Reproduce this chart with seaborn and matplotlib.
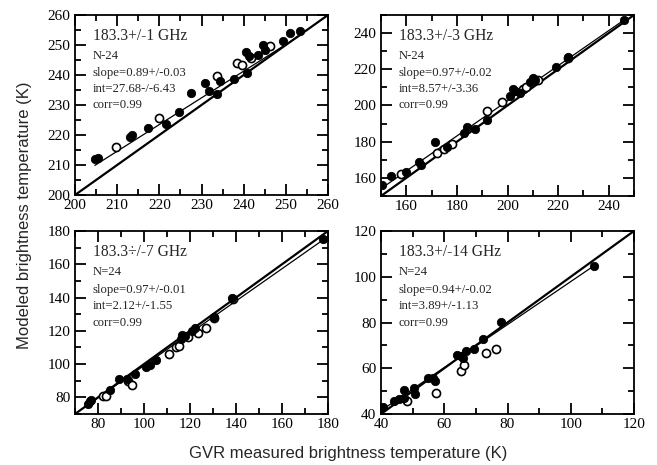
import numpy as np
import pandas as pd
import matplotlib
matplotlib.use("Agg")
import matplotlib.pyplot as plt
import seaborn as sns
from matplotlib.ticker import MultipleLocator

sns.set_style("ticks")
plt.rcParams['font.family'] = ['Liberation Serif', 'DejaVu Serif']

# ---------------- data ----------------
channels = ["183.3+/-1 GHz", "183.3+/-3 GHz", "183.3÷/-7 GHz", "183.3+/-14 GHz"]
n_labels = ["N-24", "N-24", "N=24", "N=24"]
slope_labels = ["slope=0.89+/-0.03", "slope=0.97+/-0.02", "slope=0.97+/-0.01", "slope=0.94+/-0.02"]
int_labels = ["int=27.68-/-6.43", "int=8.57+/-3.36", "int=2.12+/-1.55", "int=3.89+/-1.13"]
corr_labels = ["corr=0.99", "corr=0.99", "corr=0.99", "corr=0.99"]
slopes = [0.89, 0.97, 0.97, 0.94]
intercepts = [27.68, 8.57, 2.12, 3.89]

limits = [(200, 260), (150, 250), (70, 180), (40, 120)]
major_ticks = [[200, 210, 220, 230, 240, 250, 260],
               [160, 180, 200, 220, 240],
               [80, 100, 120, 140, 160, 180],
               [40, 60, 80, 100, 120]]
minor_steps = [5, 10, 10, 10]

# panel 1 (183.3+/-1 GHz)
p1_filled_x = [204.7, 205.5, 213.0, 213.4, 217.2, 221.5, 224.7, 227.6, 230.8, 231.8, 233.6, 234.5,
               237.8, 240.5, 240.9, 241.3, 243.3, 244.5, 245.0, 249.4, 250.9, 253.3]
p1_filled_y = [211.9, 212.2, 219.2, 220.0, 222.4, 223.7, 227.6, 233.9, 237.2, 234.7, 233.6, 238.0,
               238.6, 247.8, 240.6, 246.4, 246.7, 250.0, 248.3, 251.4, 253.9, 254.7]
p1_open_x = [209.7, 219.9, 233.7, 238.5, 239.7, 241.7, 246.2]
p1_open_y = [216.1, 225.8, 239.7, 244.1, 243.3, 245.7, 249.7]

# panel 2 (183.3+/-3 GHz)
p2_filled_x = [150.3, 154.0, 160.0, 165.0, 166.0, 171.5, 176.0, 183.0, 184.0, 187.0, 192.0, 201.0,
               202.0, 203.0, 205.0, 209.0, 210.0, 211.0, 219.0, 224.0, 246.0]
p2_filled_y = [156.0, 161.0, 163.0, 169.0, 167.0, 180.0, 177.0, 185.0, 188.0, 187.0, 192.0, 205.0,
               209.0, 208.0, 207.0, 213.0, 215.0, 214.0, 221.0, 227.0, 247.0]
p2_open_x = [158.0, 172.0, 175.0, 178.0, 192.0, 198.0, 206.0, 207.5, 212.0, 224.0]
p2_open_y = [162.0, 174.0, 176.0, 179.0, 197.0, 202.0, 209.0, 210.0, 214.0, 226.0]

# panel 3 (183.3+/-7 GHz)
p3_filled_x = [75.8, 76.5, 76.8, 85.2, 89.1, 92.6, 95.9, 101.0, 102.5, 105.3, 116.2, 116.5, 117.9,
               120.7, 122.1, 130.5, 138.2, 178.0]
p3_filled_y = [76.0, 77.6, 78.6, 84.2, 91.0, 91.0, 94.0, 98.0, 99.6, 102.2, 115.2, 117.6, 117.0,
               119.6, 121.6, 128.6, 139.6, 175.0]
p3_open_x = [82.1, 83.5, 93.0, 94.7, 110.9, 113.7, 115.0, 119.3, 123.5, 127.0, 130.5, 138.5]
p3_open_y = [81.0, 80.6, 89.6, 87.6, 106.0, 110.0, 110.6, 116.2, 118.6, 121.6, 128.0, 139.0]

# panel 4 (183.3+/-14 GHz)
p4_filled_x = [40.5, 44.1, 45.7, 47.3, 47.3, 50.4, 50.9, 54.8, 56.6, 57.1, 64.1, 65.2, 65.9, 66.9,
               69.3, 72.1, 78.0, 107.4]
p4_filled_y = [43.2, 45.5, 46.5, 47.2, 50.5, 51.5, 48.9, 55.9, 55.9, 54.4, 65.9, 65.2, 64.5, 67.4,
               68.5, 72.7, 80.3, 104.6]
p4_open_x = [48.3, 57.3, 65.4, 66.4, 73.2, 76.3]
p4_open_y = [45.8, 49.1, 59.0, 61.6, 66.7, 68.4]

filled_x = [p1_filled_x, p2_filled_x, p3_filled_x, p4_filled_x]
filled_y = [p1_filled_y, p2_filled_y, p3_filled_y, p4_filled_y]
open_x = [p1_open_x, p2_open_x, p3_open_x, p4_open_x]
open_y = [p1_open_y, p2_open_y, p3_open_y, p4_open_y]

# ---------------- figure ----------------
W, H = 657, 465
fig = plt.figure(figsize=(W / 100, H / 100), dpi=100)

def box(l, t, r, b):
    return [l / W, 1 - b / H, (r - l) / W, (b - t) / H]

rects = [box(75, 15, 328, 195), box(381, 15, 634, 196),
         box(75, 231, 328, 414), box(381, 231, 634, 414)]

for i in range(4):
    ax = fig.add_axes(rects[i])
    lo, hi = limits[i]
    ax.set_xlim(lo, hi)
    ax.set_ylim(lo, hi)

    # 1:1 line
    diag = pd.DataFrame({"x": [lo, hi], "y": [lo, hi]})
    sns.lineplot(data=diag, x="x", y="y", ax=ax, color="black", lw=1.6, zorder=2)
    # regression line over data range
    allx = np.array(filled_x[i] + open_x[i])
    rx = np.array([allx.min(), allx.max()])
    reg = pd.DataFrame({"x": rx, "y": slopes[i] * rx + intercepts[i]})
    sns.lineplot(data=reg, x="x", y="y", ax=ax, color="black", lw=0.9, zorder=2)

    fdf = pd.DataFrame({"x": filled_x[i], "y": filled_y[i]})
    odf = pd.DataFrame({"x": open_x[i], "y": open_y[i]})
    sns.scatterplot(data=odf, x="x", y="y", ax=ax, s=34, facecolor="white",
                    edgecolor="black", linewidth=1.2, zorder=3)
    sns.scatterplot(data=fdf, x="x", y="y", ax=ax, s=36, color="black",
                    edgecolor="black", linewidth=0.6, zorder=4)

    ax.set_xlabel("")
    ax.set_ylabel("")
    ax.set_xticks(major_ticks[i])
    ax.set_yticks(major_ticks[i])
    ax.xaxis.set_minor_locator(MultipleLocator(minor_steps[i]))
    ax.yaxis.set_minor_locator(MultipleLocator(minor_steps[i]))
    ax.tick_params(which="both", direction="in", top=True, right=True,
                   labelsize=11, width=1.3, colors="black")
    ax.tick_params(which="major", length=8)
    ax.tick_params(which="minor", length=4)
    ax.tick_params(axis="x", pad=3)
    for sp in ax.spines.values():
        sp.set_visible(True)
        sp.set_linewidth(1.3)
        sp.set_color("black")

    ax.text(0.07, 0.885, channels[i], transform=ax.transAxes, fontsize=11.2,
            va="center", ha="left")
    ys = [0.775, 0.68, 0.59, 0.5]
    for yy, t in zip(ys, [n_labels[i], slope_labels[i], int_labels[i], corr_labels[i]]):
        ax.text(0.07, yy, t, transform=ax.transAxes, fontsize=9.2, va="center", ha="left")

fig.text(348 / W, 1 - 453 / H, "GVR measured brightness temperature (K)", ha="center",
         va="center", fontsize=12, family=["Liberation Sans", "DejaVu Sans"])
fig.text(25 / W, 1 - 215 / H, "Modeled brightness temperature (K)", ha="center",
         va="center", rotation=90, fontsize=12, family=["Liberation Sans", "DejaVu Sans"])

fig.savefig("out.png", dpi=100)
